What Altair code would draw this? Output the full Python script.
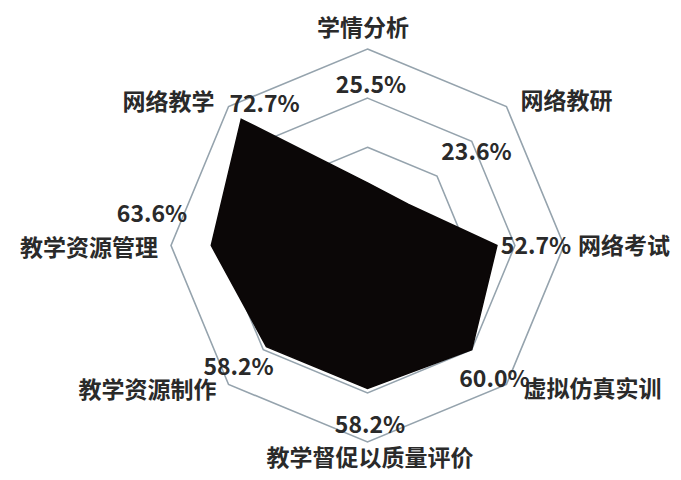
import math
import altair as alt
import pandas as pd

# ---- data ----
categories = ["学情分析", "网络教研", "网络考试", "虚拟仿真实训",
              "教学督促以质量评价", "教学资源制作", "教学资源管理", "网络教学"]
values = [25.5, 23.6, 52.7, 60.0, 58.2, 58.2, 63.6, 72.7]
value_labels = ["25.5%", "23.6%", "52.7%", "60.0%", "58.2%", "58.2%", "63.6%", "72.7%"]
ring_levels = [40, 60, 80]
r_max = 80

# ---- layout (pixels) ----
W, H = 665, 464
cx_px, cy_px = 359.5, 237.5     # centre inside the chart
R_px = 196.5                    # radius of the outer ring
ppu = R_px / r_max              # pixels per value unit

# label offsets from each axis' outer vertex, in pixels (right, down)
cat_off = [(-4.5, -20), (60, -5), (60, 1.5), (86, 6), (2.5, 16.5), (-81, 7), (-82, 3), (-60, -4)]
val_off = [(3.5, 37), (-30, 46), (-28, 1.5), (-12, -4), (2.5, -16), (10, -16), (-19, -31), (36, -2)]

n = len(categories)
def ang(i):
    return math.radians(90 - 360.0 / n * i)

# rings
ring_rows = []
for lv in ring_levels:
    for i in range(n):
        ring_rows.append({"ring": lv, "idx": i,
                          "x": lv * math.cos(ang(i)), "y": lv * math.sin(ang(i))})
rings = pd.DataFrame(ring_rows)

# data polygon
poly = pd.DataFrame({
    "idx": list(range(n)),
    "cat": categories,
    "v": values,
    "x": [v * math.cos(ang(i)) for i, v in enumerate(values)],
    "y": [v * math.sin(ang(i)) for i, v in enumerate(values)],
})

# labels
lab_rows = []
for i in range(n):
    vx, vy = r_max * math.cos(ang(i)), r_max * math.sin(ang(i))
    lab_rows.append({"text": categories[i], "kind": "cat",
                     "x": vx + cat_off[i][0] / ppu, "y": vy - cat_off[i][1] / ppu})
    lab_rows.append({"text": value_labels[i], "kind": "val",
                     "x": vx + val_off[i][0] / ppu, "y": vy - val_off[i][1] / ppu})
labels = pd.DataFrame(lab_rows)

xs = alt.Scale(domain=[-cx_px / ppu, (W - cx_px) / ppu], nice=False, zero=False)
ys = alt.Scale(domain=[-(H - cy_px) / ppu, cy_px / ppu], nice=False, zero=False)
X = alt.X("x:Q", scale=xs, axis=None)
Y = alt.Y("y:Q", scale=ys, axis=None)

grid = alt.Chart(rings).mark_line(
    interpolate="linear-closed", stroke="#95a3ad", strokeWidth=1.6
).encode(x=X, y=Y, detail="ring:N", order="idx:Q")

area = alt.Chart(poly).mark_line(
    interpolate="linear-closed", fill="#0b0707", stroke="#0b0707",
    strokeWidth=1.5, fillOpacity=1
).encode(x=X, y=Y, order="idx:Q")

text = alt.Chart(labels).mark_text(
    font="Noto Sans CJK SC", fontSize=23, fontWeight="bold", color="#2a2a2a",
    align="center", baseline="middle"
).encode(x=X, y=Y, text="text:N")

chart = alt.layer(grid, area, text).properties(
    width=W, height=H, autosize="none", padding=0
).configure_view(stroke=None)

chart.save("out.html", embed_options={"renderer": "svg", "actions": False})
